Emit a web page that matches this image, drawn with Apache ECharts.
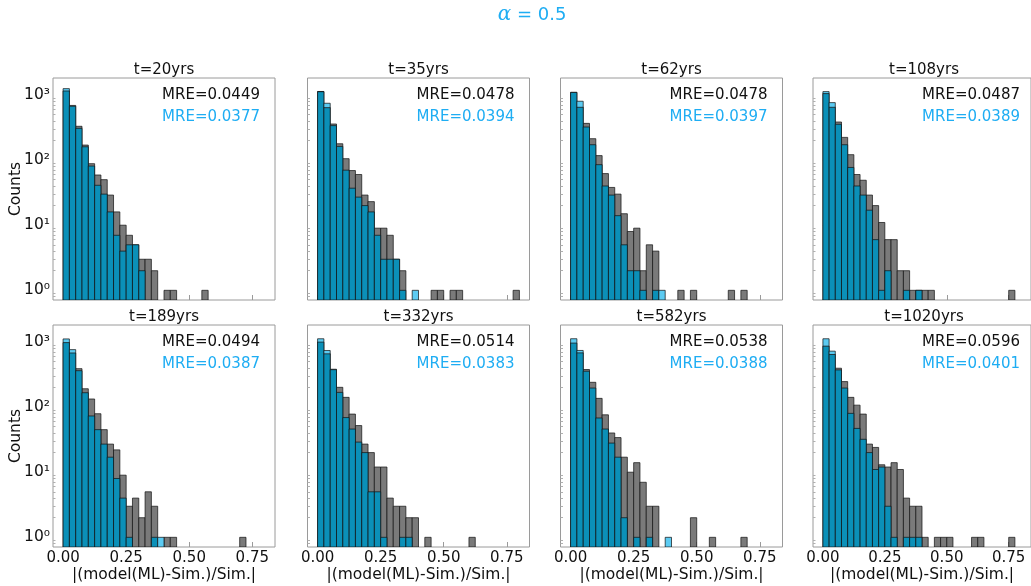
<!DOCTYPE html>
<html><head><meta charset="utf-8">
<script src="https://cdn.jsdelivr.net/npm/echarts@6/dist/echarts.min.js"></script>
<style>html,body{margin:0;padding:0;background:#fff}#c{width:1031px;height:586px}</style>
</head><body><div id="c"></div>
<script>
// ---------------- data ----------------
const SUPTITLE_SYMBOL = 'α';
const SUPTITLE_REST = ' = 0.5';
const PANEL_TITLES = ['t=20yrs','t=35yrs','t=62yrs','t=108yrs','t=189yrs','t=332yrs','t=582yrs','t=1020yrs'];
const MRE_MODEL = ['0.0449','0.0478','0.0478','0.0487','0.0494','0.0514','0.0538','0.0596'];
const MRE_ML    = ['0.0377','0.0394','0.0397','0.0389','0.0387','0.0383','0.0388','0.0401'];
const X_NAME = '|(model(ML)-Sim.)/Sim.|';
const Y_NAME = 'Counts';
const X_TICKS = [0, 0.25, 0.5, 0.75];
const Y_TICKS = [1, 10, 100, 1000];
const Y_MINOR_TICKS = [0.8,0.9,2,3,4,5,6,7,8,9,20,30,40,50,60,70,80,90,200,300,400,500,600,700,800,900];
const BIN_WIDTH = 0.025;   // histogram bin k covers [k*w, (k+1)*w]

// counts per bin (grey = model, blue = ML)
const model_t20   = [1150,690,330,170,88,59,50,29,16,10,7,5,3,3,2,0,1,1,0,0,0,0,1];
const ml_t20      = [1250,670,307,160,81,41,30,16,7,4,5,5,2,0,0,0];
const model_t35   = [1120,638,358,178,105,69,60,29,23,9,9,7,3,2,0,0,0,0,1,1,0,1,1,0,0,0,0,0,0,0,0,1];
const ml_t35      = [1130,745,338,162,70,37,27,20,16,7,3,3,3,1,0,1];
const model_t62   = [1100,646,366,213,117,62,38,30,15,8,9,2,5,4,0,0,0,1,0,1,0,0,0,0,0,1,0,1];
const ml_t62      = [1090,800,322,172,85,40,29,14,5,2,2,1,0,1,1];
const model_t108  = [1049,646,384,223,121,60,49,29,20,11,6,6,2,2,1,1,1,1,0,0,0,0,0,0,0,0,0,0,0,0,1];
const ml_t108     = [1125,762,354,172,77,40,29,17,6,1,2,0,0,1,0,1];
const model_t189  = [977,677,389,191,133,79,45,27,22,9,3,4,2,5,3,0,1,1,0,0,0,0,0,0,0,0,0,0,1];
const ml_t189     = [1112,762,362,166,73,45,27,17,8,4,1,0,0,0,1,1];
const model_t332  = [994,657,381,201,141,78,52,27,20,12,12,4,3,3,2,2,0,1,0,0,0,0,0,0,1];
const ml_t332     = [1119,739,375,168,69,46,29,20,5,5,1,0,0,1,1];
const model_t582  = [960,680,377,240,136,76,40,34,17,10,14,7,3,3,0,0,0,0,0,2,0,0,1,0,0,0,0,1];
const ml_t582     = [1120,740,355,196,68,46,28,17,2,0,1,0,1,0,0,1];
const model_t1020 = [862,642,395,246,141,107,78,27,24,13,12,14,11,4,3,3,1,0,1,1,1,0,0,0,1,1,0,0,0,0,1];
const ml_t1020    = [1119,722,372,196,80,47,32,20,11,12,3,1,0,1,1,1];

const MODEL_COUNTS = [model_t20, model_t35, model_t62, model_t108, model_t189, model_t332, model_t582, model_t1020];
const ML_COUNTS    = [ml_t20, ml_t35, ml_t62, ml_t108, ml_t189, ml_t332, ml_t582, ml_t1020];

// ---------------- style / layout ----------------
const X_MIN = -0.04, X_MAX = 0.84;
const Y_MIN = 0.71, Y_MAX = 1820;
const GREY = '#7a7a7a', TEAL = '#0b90b8', LIGHT = '#5ccbf2', EDGE = 'rgba(20,20,20,0.8)';
const BLUE_TEXT = '#1eadf3';
const FRAME = '#9a9a9a';
const FONT = 'DejaVu Sans';
const COL_LEFT = [53, 307.5, 560.5, 813];
const ROW_TOP = [78, 325];
const PW = 222, PH = 222;
const SUP = {0:'⁰',1:'¹',2:'²',3:'³'};

function renderModel(params, api) {
  const c = api.value(2);
  const tl = api.coord([api.value(0), c]);
  const br = api.coord([api.value(1), Y_MIN]);
  return {type:'rect', shape:{x:tl[0], y:tl[1], width:br[0]-tl[0], height:br[1]-tl[1]},
          style:{fill:GREY, stroke:EDGE, lineWidth:0.9}};
}
function renderML(params, api) {
  const x0 = api.value(0), x1 = api.value(1), b = api.value(2), g = api.value(3);
  const top = api.coord([x0, b]);
  const br = api.coord([x1, Y_MIN]);
  const w = br[0] - top[0];
  const ov = g > 0 ? api.coord([x0, Math.min(b, g)])[1] : br[1];
  const ch = [];
  if (g > 0) ch.push({type:'rect', shape:{x:top[0], y:ov, width:w, height:br[1]-ov}, style:{fill:TEAL}});
  if (b > g) {
    ch.push({type:'rect', shape:{x:top[0], y:top[1], width:w, height:ov-top[1]}, style:{fill:LIGHT}});
    if (g > 0) ch.push({type:'line', shape:{x1:top[0], y1:ov, x2:br[0], y2:ov}, style:{stroke:EDGE, lineWidth:0.9}});
  }
  ch.push({type:'rect', shape:{x:top[0], y:top[1], width:w, height:br[1]-top[1]}, style:{fill:'none', stroke:EDGE, lineWidth:0.9}});
  return {type:'group', children:ch};
}

const grids = [], xAxes = [], yAxes = [], series = [], graphics = [];
for (let i = 0; i < 8; i++) {
  const col = i % 4, row = Math.floor(i / 4);
  const left = COL_LEFT[col], top = ROW_TOP[row];
  grids.push({left:left, top:top, width:PW, height:PH, show:true, borderColor:FRAME, borderWidth:1, backgroundColor:'rgba(0,0,0,0)', containLabel:false});
  xAxes.push({type:'value', gridIndex:i, min:X_MIN, max:X_MAX,
    axisLine:{show:false}, splitLine:{show:false},
    axisTick:{show:true, inside:true, length:5, customValues:X_TICKS, lineStyle:{color:FRAME}},
    axisLabel:{show:row===1, customValues:X_TICKS, formatter:v=>v.toFixed(2), fontSize:15, fontFamily:FONT, color:'#111', margin:4},
    name: row===1 ? X_NAME : '', nameLocation:'middle', nameGap:20,
    nameTextStyle:{fontSize:15.5, fontFamily:FONT, color:'#111'}});
  yAxes.push({type:'log', logBase:10, gridIndex:i, min:Y_MIN, max:Y_MAX, position:'left',
    axisLine:{show:false}, splitLine:{show:false},
    axisTick:{show:true, inside:true, length:5, customValues:Y_TICKS, lineStyle:{color:FRAME}},
    axisLabel:{show:col===0, customValues:Y_TICKS, formatter:v=>'10'+SUP[Math.round(Math.log10(v))], fontSize:15.5, fontFamily:FONT, color:'#111', margin:3},
    name: col===0 ? Y_NAME : '', nameLocation:'middle', nameGap:29, nameRotate:90, nameMoveOverlap:false,
    nameTextStyle:{fontSize:15.5, fontFamily:FONT, color:'#111'}});
  yAxes.push({type:'log', logBase:10, gridIndex:i, min:Y_MIN, max:Y_MAX, position:'left',
    axisLine:{show:false}, splitLine:{show:false}, axisLabel:{show:false},
    axisTick:{show:true, inside:true, length:2.5, customValues:Y_MINOR_TICKS, lineStyle:{color:'#b0b0b0'}}});

  const mc = MODEL_COUNTS[i], bc = ML_COUNTS[i];
  const n = Math.max(mc.length, bc.length);
  const modelData = [], mlData = [];
  for (let k = 0; k < n; k++) {
    const g = mc[k] || 0, b = bc[k] || 0;
    if (g > 0) modelData.push([k*BIN_WIDTH, (k+1)*BIN_WIDTH, g]);
    if (b > 0) mlData.push([k*BIN_WIDTH, (k+1)*BIN_WIDTH, b, g]);
  }
  series.push({type:'custom', name:'model', xAxisIndex:i, yAxisIndex:2*i, clip:true, renderItem:renderModel,
    encode:{x:[0,1], y:2}, data:modelData, z:2});
  series.push({type:'custom', name:'ML', xAxisIndex:i, yAxisIndex:2*i, clip:true, renderItem:renderML,
    encode:{x:[0,1], y:2}, data:mlData, z:3});

  const cx = left + PW/2;
  graphics.push({type:'text', x:cx, y:top-8, style:{text:PANEL_TITLES[i], fontSize:15, fontFamily:FONT, fill:'#111',
    align:'center', verticalAlign:'middle', textAlign:'center', textVerticalAlign:'middle'}});
  graphics.push({type:'text', x:left+PW-15, y:top+17, style:{text:'MRE='+MRE_MODEL[i], fontSize:15, fontFamily:FONT, fill:'#111',
    align:'right', verticalAlign:'middle', textAlign:'right', textVerticalAlign:'middle'}});
  graphics.push({type:'text', x:left+PW-15, y:top+39, style:{text:'MRE='+MRE_ML[i], fontSize:15, fontFamily:FONT, fill:BLUE_TEXT,
    align:'right', verticalAlign:'middle', textAlign:'right', textVerticalAlign:'middle'}});
}
graphics.push({type:'text', x:532, y:15, style:{
  text:'{a|'+SUPTITLE_SYMBOL+'}{b|'+SUPTITLE_REST+'}',
  rich:{a:{fontFamily:'DejaVu Serif', fontStyle:'italic', fontSize:20, fill:BLUE_TEXT, color:BLUE_TEXT},
        b:{fontFamily:FONT, fontSize:18, fill:BLUE_TEXT, color:BLUE_TEXT}},
  fill:BLUE_TEXT, align:'center', verticalAlign:'middle', textAlign:'center', textVerticalAlign:'middle'}});

const chart = echarts.init(document.getElementById('c'), null, {renderer:'canvas'});
chart.setOption({animation:false, backgroundColor:'#fff', grid:grids, xAxis:xAxes, yAxis:yAxes, series:series, graphic:graphics});
</script></body></html>
